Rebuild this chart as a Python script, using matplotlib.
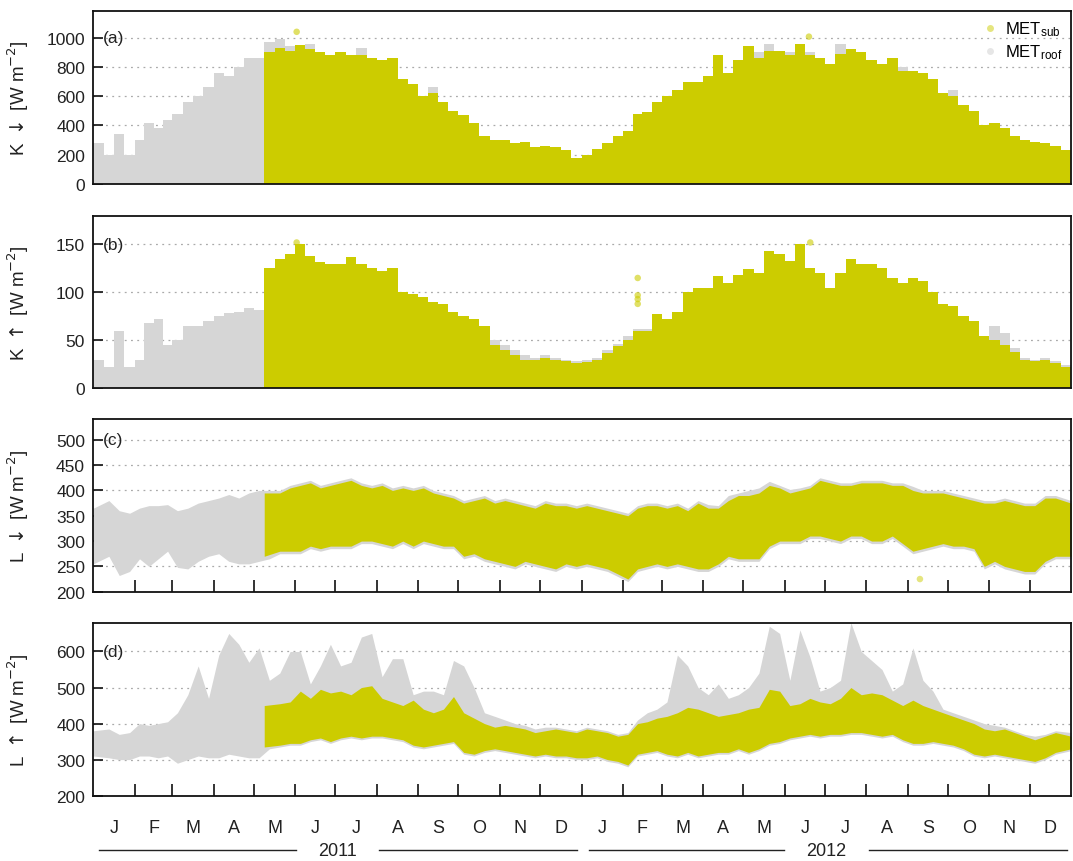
import numpy as np
import matplotlib
matplotlib.use('Agg')
import matplotlib.pyplot as plt
import matplotlib.transforms as mtransforms
from matplotlib.lines import Line2D

plt.rcParams['font.family'] = ['Liberation Sans', 'DejaVu Sans']
plt.rcParams['mathtext.fontset'] = 'custom'
plt.rcParams['mathtext.rm'] = 'Liberation Sans'
plt.rcParams['mathtext.it'] = 'Liberation Sans:italic'
plt.rcParams['mathtext.bf'] = 'Liberation Sans:bold'

# ---------------- data (quarter-month bins, Jan 2011 - Dec 2012) ----------------
month_letters = ['J', 'F', 'M', 'A', 'M', 'J', 'J', 'A', 'S', 'O', 'N', 'D']
year_labels = ['2011', '2012']
series_labels = ['MET$_{\\mathrm{sub}}$', 'MET$_{\\mathrm{roof}}$']
panel_tags = ['(a)', '(b)', '(c)', '(d)']
y_labels = ['K $\\downarrow$ [W m$^{-2}$]', 'K $\\uparrow$ [W m$^{-2}$]',
            'L $\\downarrow$ [W m$^{-2}$]', 'L $\\uparrow$ [W m$^{-2}$]']
SUB_START_BIN = 17   # MET_sub starts ~8 May 2011

# (a) K down -- upper envelope
kdn_roof = [280, 200, 340, 200, 300, 420, 380, 440, 480, 560, 600, 660, 760, 740, 800, 860,
            860, 970, 990, 940, 950, 960, 900, 880, 900, 880, 930, 860, 850, 860, 720, 680,
            600, 660, 560, 500, 470, 420, 330, 300, 300, 280, 290, 250, 260, 250, 230, 180,
            200, 240, 280, 330, 360, 480, 490, 560, 600, 640, 700, 700, 740, 880, 760, 850,
            940, 900, 960, 910, 900, 960, 900, 860, 820, 960, 920, 900, 850, 820, 860, 800,
            770, 760, 720, 620, 640, 540, 500, 400, 420, 380, 330, 300, 290, 280, 260, 230]
kdn_sub = [900, 930, 910,
           950, 920, 900, 880, 900, 880, 880, 860, 850, 860, 720, 680,
           600, 620, 560, 500, 470, 420, 330, 300, 300, 280, 290, 250, 260, 250, 230, 180,
           200, 240, 280, 330, 360, 480, 490, 560, 600, 640, 700, 700, 740, 880, 760, 850,
           940, 860, 910, 910, 880, 960, 880, 860, 820, 890, 920, 900, 850, 820, 860, 770,
           770, 760, 720, 620, 600, 540, 500, 400, 420, 380, 330, 300, 290, 280, 260, 230]
kdn_sub_out_day = [152, 535]
kdn_sub_out_val = [1040, 1007]

# (b) K up -- upper envelope
kup_roof = [30, 22, 60, 22, 30, 68, 72, 45, 50, 65, 65, 70, 75, 78, 80, 84,
            82, 125, 135, 140, 150, 138, 132, 130, 130, 137, 130, 125, 122, 125, 100, 98,
            95, 90, 88, 80, 75, 72, 65, 50, 45, 40, 35, 32, 35, 32, 30, 28,
            30, 32, 40, 46, 55, 62, 62, 77, 72, 80, 100, 105, 105, 117, 110, 118,
            124, 120, 143, 140, 133, 150, 125, 120, 105, 120, 135, 130, 130, 125, 115, 110,
            115, 112, 100, 88, 86, 75, 70, 55, 65, 58, 42, 32, 30, 32, 28, 24]
kup_sub = [125, 135, 140,
           150, 138, 132, 130, 130, 137, 130, 125, 122, 125, 100, 98,
           95, 90, 88, 80, 75, 72, 65, 45, 40, 35, 30, 30, 32, 30, 28, 26,
           27, 30, 37, 44, 50, 60, 60, 77, 72, 80, 100, 105, 105, 117, 110, 118,
           124, 120, 143, 140, 133, 150, 125, 120, 105, 120, 135, 130, 130, 125, 115, 110,
           115, 112, 100, 88, 86, 75, 70, 55, 50, 45, 38, 30, 28, 30, 26, 22]
kup_sub_out_day = [152, 407, 407, 407, 407, 536]
kup_sub_out_val = [152, 115, 97, 93, 88, 152]

# (c) L down -- upper / lower envelopes
ldn_roof_hi = [365, 380, 360, 355, 365, 370, 370, 372, 360, 365, 375, 380, 385, 392, 385, 395,
               400, 400, 400, 410, 415, 420, 410, 415, 420, 425, 415, 410, 415, 405, 410, 405,
               410, 400, 395, 390, 380, 385, 390, 380, 385, 380, 375, 370, 380, 375, 375, 370,
               375, 370, 365, 360, 355, 370, 375, 375, 370, 375, 365, 380, 372, 370, 390, 395,
               400, 405, 418, 410, 402, 405, 410, 425, 420, 415, 415, 420, 420, 420, 415, 415,
               408, 400, 400, 400, 395, 390, 385, 380, 380, 385, 380, 375, 375, 390, 390, 380]
ldn_roof_lo = [255, 270, 232, 240, 265, 250, 265, 280, 248, 245, 260, 270, 275, 260, 255, 255,
               260, 265, 275, 275, 275, 285, 280, 285, 285, 285, 295, 295, 290, 285, 295, 285,
               295, 290, 285, 285, 265, 270, 260, 255, 250, 245, 255, 250, 245, 240, 250, 245,
               250, 245, 240, 230, 220, 240, 245, 250, 245, 250, 245, 240, 240, 250, 265, 260,
               260, 260, 285, 295, 295, 295, 305, 305, 300, 295, 305, 305, 295, 295, 305, 290,
               275, 280, 285, 290, 285, 285, 280, 245, 255, 245, 240, 235, 235, 255, 265, 265]
ldn_sub_hi = [395, 395, 405,
              410, 415, 405, 410, 415, 420, 410, 405, 410, 400, 405, 400,
              405, 395, 390, 385, 375, 380, 385, 375, 380, 375, 370, 365, 375, 370, 370, 365,
              370, 365, 360, 355, 350, 365, 370, 370, 365, 370, 360, 375, 365, 365, 380, 390,
              390, 395, 410, 405, 395, 400, 405, 420, 415, 410, 410, 415, 415, 415, 410, 410,
              400, 395, 395, 395, 390, 385, 380, 375, 375, 380, 375, 370, 370, 385, 385, 375]
ldn_sub_lo = [270, 280, 280,
              280, 290, 285, 290, 290, 290, 300, 300, 295, 290, 300, 290,
              300, 295, 290, 290, 270, 275, 265, 260, 255, 250, 260, 255, 250, 245, 255, 250,
              255, 250, 245, 235, 225, 245, 250, 255, 250, 255, 250, 245, 245, 255, 270, 265,
              265, 265, 290, 300, 300, 300, 310, 310, 305, 300, 310, 310, 300, 300, 310, 295,
              280, 285, 290, 295, 290, 290, 285, 250, 260, 250, 245, 240, 240, 260, 270, 270]
ldn_sub_out_day = [618]
ldn_sub_out_val = [225]

# (d) L up -- upper / lower envelopes
lup_roof_hi = [380, 385, 370, 375, 400, 395, 400, 405, 430, 480, 560, 470, 590, 650, 620, 570,
               610, 520, 540, 600, 600, 510, 560, 620, 560, 570, 640, 650, 530, 580, 580, 480,
               490, 490, 480, 575, 560, 500, 430, 420, 410, 400, 395, 385, 390, 390, 385, 380,
               390, 385, 380, 370, 375, 410, 430, 440, 460, 590, 560, 500, 480, 510, 470, 480,
               500, 540, 670, 650, 520, 660, 585, 490, 500, 520, 680, 600, 575, 550, 490, 510,
               610, 520, 490, 440, 430, 420, 410, 400, 395, 390, 380, 370, 365, 370, 380, 375]
lup_roof_lo = [310, 305, 300, 300, 310, 310, 305, 310, 290, 300, 310, 305, 305, 315, 310, 305,
               305, 330, 335, 340, 340, 350, 355, 345, 355, 360, 355, 360, 360, 355, 350, 335,
               330, 335, 340, 345, 315, 310, 320, 325, 320, 315, 310, 305, 310, 305, 305, 300,
               300, 305, 295, 290, 280, 310, 315, 320, 310, 305, 315, 305, 310, 315, 315, 325,
               315, 325, 340, 345, 355, 360, 365, 360, 365, 365, 370, 370, 365, 360, 365, 350,
               340, 340, 345, 340, 335, 325, 310, 305, 310, 305, 300, 295, 290, 300, 315, 325]
lup_sub_hi = [450, 455, 460,
              490, 470, 495, 485, 490, 480, 500, 505, 470, 460, 450, 465,
              440, 430, 440, 475, 430, 415, 400, 390, 395, 390, 385, 375, 380, 385, 380, 375,
              385, 380, 375, 365, 370, 400, 405, 415, 420, 430, 445, 440, 430, 420, 425, 430,
              440, 445, 495, 490, 450, 455, 470, 460, 455, 470, 500, 480, 485, 480, 465, 450,
              465, 450, 440, 430, 420, 410, 400, 385, 380, 385, 375, 365, 355, 365, 375, 365]
lup_sub_lo = [335, 340, 345,
              345, 355, 360, 350, 360, 365, 360, 365, 365, 360, 355, 340,
              335, 340, 345, 350, 320, 315, 325, 330, 325, 320, 315, 310, 315, 310, 310, 305,
              305, 310, 300, 295, 285, 315, 320, 325, 315, 310, 320, 310, 315, 320, 320, 330,
              320, 330, 345, 350, 360, 365, 370, 365, 370, 370, 375, 375, 370, 365, 370, 355,
              345, 345, 350, 345, 340, 330, 315, 310, 315, 310, 305, 300, 295, 305, 320, 330]

# ---------------- geometry ----------------
SUB_COLOR = '#cccc00'
ROOF_COLOR = '#d6d6d6'
TEXT_COLOR = '#222222'

month_starts = np.arange('2011-01', '2013-02', dtype='datetime64[M]').astype('datetime64[D]')
month_day = (month_starts - np.datetime64('2011-01-01')).astype(float)
edges = []
for m in range(24):
    a, b = month_day[m], month_day[m + 1]
    for k in range(4):
        edges.append(a + (b - a) * k / 4.0)
edges.append(month_day[24])
edges = np.array(edges)
centers = 0.5 * (edges[:-1] + edges[1:])
month_mid = 0.5 * (month_day[:-1] + month_day[1:])

fig = plt.figure(figsize=(10.73, 8.62), dpi=100)
left, width, height = 0.0870, 0.9112, 0.2003
bottoms = [0.7854, 0.5484, 0.3124, 0.0758]
axes = [fig.add_axes([left, b, width, height]) for b in bottoms]

ylims = [(0, 1180), (0, 180), (200, 541), (200, 679)]
yticks = [np.arange(0, 1001, 200), np.arange(0, 151, 50),
          np.arange(200, 501, 50), np.arange(200, 601, 100)]


def band_x(start_bin):
    x = centers[start_bin:].copy()
    x[0] = edges[start_bin]
    x[-1] = edges[-1]
    return x


# (a) and (b): stair envelopes from zero
for ax, roof, sub, od, ov in [(axes[0], kdn_roof, kdn_sub, kdn_sub_out_day, kdn_sub_out_val),
                              (axes[1], kup_roof, kup_sub, kup_sub_out_day, kup_sub_out_val)]:
    ax.stairs(roof, edges, baseline=0, fill=True, color=ROOF_COLOR, zorder=2)
    ax.stairs(sub, edges[SUB_START_BIN:], baseline=0, fill=True, color=SUB_COLOR, zorder=3)
    ax.scatter(od, ov, s=22, color=SUB_COLOR, alpha=0.6, edgecolors='none', zorder=3)

# (c) and (d): bands
for ax, rhi, rlo, shi, slo in [(axes[2], ldn_roof_hi, ldn_roof_lo, ldn_sub_hi, ldn_sub_lo),
                               (axes[3], lup_roof_hi, lup_roof_lo, lup_sub_hi, lup_sub_lo)]:
    ax.fill_between(band_x(0), rlo, rhi, color=ROOF_COLOR, lw=0, zorder=2)
    ax.fill_between(band_x(SUB_START_BIN), slo, shi, color=SUB_COLOR, lw=0, zorder=3)
axes[2].scatter(ldn_sub_out_day, ldn_sub_out_val, s=22, color=SUB_COLOR, alpha=0.5,
                edgecolors='none', zorder=3)

for i, ax in enumerate(axes):
    ax.set_xlim(0, month_day[24])
    ax.set_ylim(*ylims[i])
    ax.set_yticks(yticks[i])
    ax.set_xticks(month_day[1:24])
    ax.tick_params(axis='x', direction='in', length=9, width=1.2, bottom=True, top=False,
                   labelbottom=False, color='#111111')
    ax.tick_params(axis='y', direction='in', length=7, width=1.2, left=True, right=False,
                   labelsize=12.5, pad=6, color='#111111', labelcolor=TEXT_COLOR)
    ax.yaxis.grid(True, linestyle=(0, (1.5, 3.5)), color='#aaaaaa', lw=0.9)
    ax.set_axisbelow(True)
    for sp in ax.spines.values():
        sp.set_linewidth(1.3)
        sp.set_color('#111111')
        sp.set_zorder(5)
    ax.set_ylabel(y_labels[i], fontsize=13.5, color=TEXT_COLOR, math_fontfamily='dejavusans')
    ax.yaxis.set_label_coords(-0.064, 0.5)
    trans = mtransforms.blended_transform_factory(ax.transAxes, ax.transData)
    ax.text(0.010, yticks[i][-1], panel_tags[i], transform=trans, ha='left', va='center',
            fontsize=12.5, color=TEXT_COLOR, zorder=6)

# legend in (a)
handles = [Line2D([], [], marker='o', linestyle='none', markersize=5,
                  markerfacecolor=SUB_COLOR, markeredgecolor='none', alpha=0.5),
           Line2D([], [], marker='o', linestyle='none', markersize=5,
                  markerfacecolor=ROOF_COLOR, markeredgecolor='none', alpha=0.6)]
axes[0].legend(handles, series_labels, loc='upper right', frameon=False, fontsize=12,
               handlelength=0.8, handletextpad=0.5, labelspacing=0.25,
               borderaxespad=0.3, borderpad=0.2)

# month and year labels below the bottom panel
axd = axes[3]
tr = mtransforms.blended_transform_factory(axd.transData, axd.transAxes)
for m in range(24):
    axd.text(month_mid[m], -0.183, month_letters[m % 12], transform=tr, ha='center',
             va='center', fontsize=13, color=TEXT_COLOR)
year_y = -0.317
year_centers = [0.25, 0.75]
year_lines = [[(0.006, 0.2076), (0.2924, 0.4949)], [(0.507, 0.7065), (0.7935, 0.996)]]
for yc, lab, segs in zip(year_centers, year_labels, year_lines):
    axd.text(yc, year_y, lab, transform=axd.transAxes, ha='center', va='center',
             fontsize=13, color=TEXT_COLOR)
    for x0, x1 in segs:
        axd.add_line(Line2D([x0, x1], [year_y, year_y], transform=axd.transAxes,
                            color='#222222', lw=1.0, clip_on=False))

fig.savefig('out.png', dpi=100)
